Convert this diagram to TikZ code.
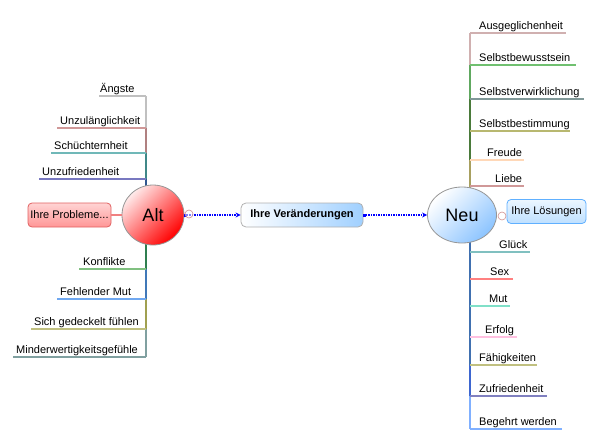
\documentclass[tikz,border=0pt]{standalone}
\usepackage{fontspec}
\setmainfont{Liberation Sans}
\usetikzlibrary{shapes.geometric,arrows.meta}
\definecolor{cAng}{HTML}{C0C0C0}
\definecolor{cUnzul}{HTML}{D09898}
\definecolor{cSchue}{HTML}{70B8B8}
\definecolor{cUnzuf}{HTML}{7878C0}
\definecolor{cKonf}{HTML}{80C080}
\definecolor{cMut}{HTML}{70A8F0}
\definecolor{cSich}{HTML}{C0C080}
\definecolor{cMind}{HTML}{80A0A0}
\definecolor{cAus}{HTML}{D0B0B0}
\definecolor{cSbw}{HTML}{70C070}
\definecolor{cSvw}{HTML}{809898}
\definecolor{cSbe}{HTML}{B8B870}
\definecolor{cFreu}{HTML}{FFD8B8}
\definecolor{cLieb}{HTML}{D09898}
\definecolor{cGlue}{HTML}{80C0C0}
\definecolor{cSex}{HTML}{FF8080}
\definecolor{cMut2}{HTML}{80E0C8}
\definecolor{cErf}{HTML}{FFC0E0}
\definecolor{cFae}{HTML}{C0C080}
\definecolor{cZuf}{HTML}{8080C0}
\definecolor{cBeg}{HTML}{80B0FF}
\definecolor{conBlue}{HTML}{0000FF}
% trunk colours
\definecolor{tA}{HTML}{C0C0C0}
\definecolor{tB}{HTML}{B08080}
\definecolor{tC}{HTML}{408888}
\definecolor{tD}{HTML}{305890}
\definecolor{tE}{HTML}{2F7F50}
\definecolor{tF}{HTML}{4078B8}
\definecolor{tG}{HTML}{A0A050}
\definecolor{tH}{HTML}{80A0A0}
\definecolor{tI}{HTML}{D0B0B0}
\definecolor{tJ}{HTML}{60A860}
\definecolor{tK}{HTML}{4A7A3A}
\definecolor{tL}{HTML}{A8A060}
\definecolor{tM}{HTML}{4070B0}
\definecolor{tN}{HTML}{3D66D0}
\definecolor{tO}{HTML}{80B0FF}
% node colours
\definecolor{ellBorder}{HTML}{969696}
\definecolor{altTop}{HTML}{FFEBEB}
\definecolor{altBot}{HTML}{FF0000}
\definecolor{neuBot}{HTML}{8CC4FF}
\definecolor{probBorder}{HTML}{E06060}
\definecolor{probTop}{HTML}{FFD4D4}
\definecolor{probBot}{HTML}{FF9696}
\definecolor{verBorder}{HTML}{B0B0B0}
\definecolor{verRight}{HTML}{A0D0FF}
\definecolor{loesBorder}{HTML}{60B0FF}
\definecolor{loesTop}{HTML}{ECF6FF}
\definecolor{loesBot}{HTML}{BEE0FF}
\definecolor{probLink}{HTML}{F08080}
\definecolor{knobCol}{HTML}{D09090}
\tikzset{
  lbl/.style={inner sep=0pt, anchor=base west, font=\fontsize{11}{12}\selectfont, text=black},
  br/.style={line width=1.3pt},
  trunk/.style={line width=1.6pt},
  conn/.style={conBlue, line width=1.2pt, dash pattern=on 1.2pt off 1.3pt,
     {Square[length=3pt,width=3pt]}-{Stealth[length=5pt,width=5pt]}},
  knob/.style={circle, draw=knobCol, line width=0.6pt, minimum size=8pt, inner sep=0pt, fill=white, fill opacity=0.5},
}
\begin{document}
\begin{tikzpicture}[x=1pt,y=-1pt]
\path[use as bounding box] (0,0) rectangle (599,442);

% ---------- left trunk ----------
\coordinate (L0) at (146,96);
\coordinate (L1) at (146,128);
\coordinate (L2) at (146,153);
\coordinate (L3) at (146,179);
\coordinate (LC) at (146,215);
\coordinate (L4) at (146,269);
\coordinate (L5) at (146,299);
\coordinate (L6) at (146,329);
\coordinate (L7) at (146,357);
\draw[trunk, tA] (L0) -- (L1);
\draw[trunk, tB] (L1) -- (L2);
\draw[trunk, tC] (L2) -- (L3);
\draw[trunk, tD] (L3) -- (LC);
\draw[trunk, tE] (LC) -- (L4);
\draw[trunk, tF] (L4) -- (L5);
\draw[trunk, tG] (L5) -- (L6);
\draw[trunk, tH] (L6) -- (L7);

\draw[br, cAng] (L0) -- (99,96);
\draw[br, cUnzul] (L1) -- (57,128);
\draw[br, cSchue] (L2) -- (51,153);
\draw[br, cUnzuf] (L3) -- (39,179);
\draw[br, cKonf] (L4) -- (79,269);
\draw[br, cMut] (L5) -- (57,299);
\draw[br, cSich] (L6) -- (31,329);
\draw[br, cMind] (L7) -- (13,357);

\node[lbl] (tAng) at (100,92) {Ängste};
\node[lbl] (tUnzul) at (60,124) {Unzulänglichkeit};
\node[lbl] (tSchue) at (54,149) {Schüchternheit};
\node[lbl] (tUnzuf) at (42,175) {Unzufriedenheit};
\node[lbl] (tKonf) at (83,265) {Konflikte};
\node[lbl] (tMut) at (60,295) {Fehlender Mut};
\node[lbl] (tSich) at (34,325) {Sich gedeckelt fühlen};
\node[lbl] (tMind) at (16,353) {Minderwertigkeitsgefühle};

% ---------- right trunk ----------
\coordinate (R0) at (470,33);
\coordinate (R1) at (470,65);
\coordinate (R2) at (470,99);
\coordinate (R3) at (470,131);
\coordinate (R4) at (470,160);
\coordinate (R5) at (470,186);
\coordinate (RC) at (470,215);
\coordinate (R6) at (470,252);
\coordinate (R7) at (470,279);
\coordinate (R8) at (470,306);
\coordinate (R9) at (470,337);
\coordinate (R10) at (470,365);
\coordinate (R11) at (470,396);
\coordinate (R12) at (470,429);
\draw[trunk, tI] (R0) -- (R1);
\draw[trunk, tJ] (R1) -- (R2);
\draw[trunk, tK] (R2) -- (R4);
\draw[trunk, tL] (R4) -- (RC);
\draw[trunk, tM] (RC) -- (R10);
\draw[trunk, tN] (R10) -- (R11);
\draw[trunk, tO] (R11) -- (R12);

\draw[br, cAus] (R0) -- (566,33);
\draw[br, cSbw] (R1) -- (576,65);
\draw[br, cSvw] (R2) -- (584,99);
\draw[br, cSbe] (R3) -- (570,131);
\draw[br, cFreu] (R4) -- (524,160);
\draw[br, cLieb] (R5) -- (524,186);
\draw[br, cGlue] (R6) -- (530,252);
\draw[br, cSex] (R7) -- (513,279);
\draw[br, cMut2] (R8) -- (510,306);
\draw[br, cErf] (R9) -- (517,337);
\draw[br, cFae] (R10) -- (537,365);
\draw[br, cZuf] (R11) -- (547,396);
\draw[br, cBeg] (R12) -- (562,429);

\node[lbl] (tAus) at (479,29) {Ausgeglichenheit};
\node[lbl] (tSbw) at (479,61) {Selbstbewusstsein};
\node[lbl] (tSvw) at (479,95) {Selbstverwirklichung};
\node[lbl] (tSbe) at (479,127) {Selbstbestimmung};
\node[lbl] (tFreu) at (487,156) {Freude};
\node[lbl] (tLieb) at (495,182) {Liebe};
\node[lbl] (tGlue) at (499,248) {Glück};
\node[lbl] (tSex) at (490,275) {Sex};
\node[lbl] (tMut2) at (489,302) {Mut};
\node[lbl] (tErf) at (485,333) {Erfolg};
\node[lbl] (tFae) at (479,361) {Fähigkeiten};
\node[lbl] (tZuf) at (479,392) {Zufriedenheit};
\node[lbl] (tBeg) at (479,425) {Begehrt werden};

% ---------- central nodes ----------
\node[ellipse, draw=ellBorder, line width=0.8pt,
      minimum width=62pt, minimum height=60pt, inner sep=0pt,
      top color=altTop, bottom color=altBot,
      shading angle=45, font=\fontsize{18}{20}\selectfont] (alt) at (153,215) {Alt};
\node[ellipse, draw=ellBorder, line width=0.8pt,
      minimum width=69pt, minimum height=56pt, inner sep=0pt,
      top color=white, bottom color=neuBot,
      shading angle=45, font=\fontsize{18}{20}\selectfont] (neu) at (462,215) {Neu};

\node[rounded corners=4pt, draw=probBorder, line width=0.8pt,
      minimum width=83pt, minimum height=24pt, inner sep=0pt,
      top color=probTop, bottom color=probBot,
      font=\fontsize{11}{12}\selectfont] (prob) at (69.5,215) {Ihre Probleme...};
\node[rounded corners=5pt, draw=verBorder, line width=0.8pt,
      minimum width=122pt, minimum height=24pt, inner sep=0pt,
      left color=white, right color=verRight,
      font=\bfseries\fontsize{11}{12}\selectfont] (ver) at (302,215) {Ihre Veränderungen};
\node[rounded corners=4pt, draw=loesBorder, line width=0.8pt,
      minimum width=79pt, minimum height=24pt, inner sep=0pt,
      top color=loesTop, bottom color=loesBot,
      font=\fontsize{11}{12}\selectfont] (loes) at (546.5,211.5) {Ihre Lösungen};

% ---------- connectors ----------
\draw[line width=1.3pt, probLink] (prob.east) -- (alt.west);
\draw[conn] (alt.east) -- (ver.west);
\draw[conn] (ver.east) -- (neu.west);
\node[knob] (kalt) at (189,214) {};
\node[knob] (kneu) at (502,216) {};
\end{tikzpicture}
\end{document}
